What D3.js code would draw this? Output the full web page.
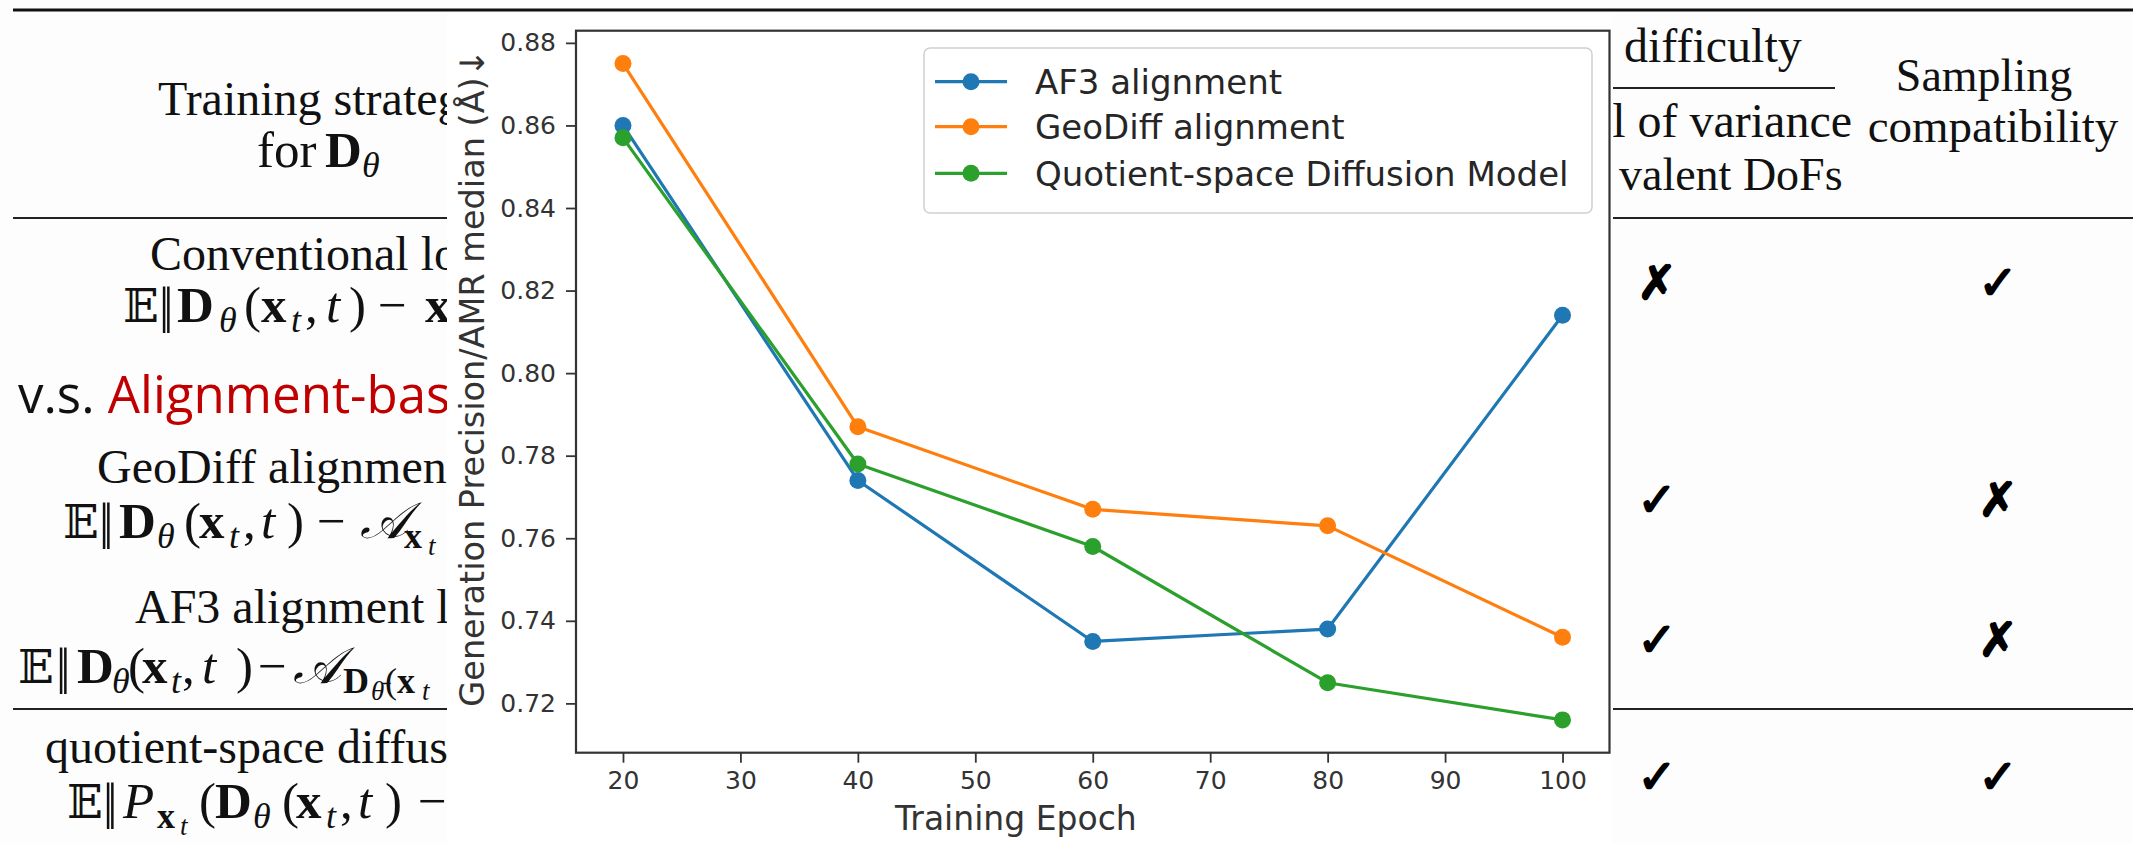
<!DOCTYPE html>
<html><head><meta charset="utf-8">
<script src="https://cdn.jsdelivr.net/npm/d3@7"></script>
<style>body{margin:0;background:#fff;} svg{display:block}</style>
</head><body>
<svg id="c" width="2133" height="844"></svg>
<script>
// ---------- chart data ----------
const epochs = [20, 40, 60, 80, 100];
const af3Values = [0.860, 0.774, 0.735, 0.738, 0.814];
const geoDiffValues = [0.875, 0.787, 0.767, 0.763, 0.736];
const quotientValues = [0.857, 0.778, 0.758, 0.725, 0.716];
const seriesNames = ["AF3 alignment", "GeoDiff alignment", "Quotient-space Diffusion Model"];
const seriesColors = ["#1f77b4", "#ff7f0e", "#2ca02c"];
const xTickValues = [20, 30, 40, 50, 60, 70, 80, 90, 100];
const yTickValues = [0.72, 0.74, 0.76, 0.78, 0.80, 0.82, 0.84, 0.86, 0.88];
const xAxisTitle = "Training Epoch";
const yAxisTitle = "Generation Precision/AMR median (Å)↓";

// ---------- background table data (visible, partly covered texts) ----------
const rowTitles = ["Conventional lo", "GeoDiff alignmen", "AF3 alignment l", "quotient-space diffus"];
const varianceMarks = ["✗", "✓", "✓", "✓"];
const samplingMarks = ["✓", "✗", "✗", "✓"];

const svg = d3.select("#c");
const W = 2133, H = 844;

svg.append("rect").attr("width", W).attr("height", H).attr("fill", "#fdfdfd");

const defs = svg.append("defs");
defs.append("clipPath").attr("id", "clipL").append("rect").attr("x", 0).attr("y", 0).attr("width", 447).attr("height", H);
defs.append("clipPath").attr("id", "clipR").append("rect").attr("x", 1613).attr("y", 0).attr("width", W - 1613).attr("height", H);

const serif = "'Liberation Serif','Times New Roman',serif";
const FS = 48, MFS = 51, SUB = 36, SUBSUB = 27;
const tbl = svg.append("g");

// rules
tbl.append("line").attr("x1", 13).attr("x2", W).attr("y1", 10).attr("y2", 10).attr("stroke", "#111").attr("stroke-width", 2.8);
[[13, 447, 218], [1613, W, 218], [1613, 1835, 88], [13, 447, 709], [1613, W, 709]].forEach(([a, b, y]) => {
  tbl.append("line").attr("x1", a).attr("x2", b).attr("y1", y).attr("y2", y).attr("stroke", "#222").attr("stroke-width", 1.8);
});

// math text helper: segments [text, styleTokens, absoluteX]
function mathText(g, y, segs) {
  const t = g.append("text").attr("y", y).attr("font-family", serif).attr("font-size", MFS).attr("fill", "#111");
  let shift = 0;
  segs.forEach(([s, st, px]) => {
    const tok = (st || "").split(" ");
    const ts = t.append("tspan").attr("x", px).text(s);
    if (tok.includes("b")) ts.attr("font-weight", "bold");
    if (tok.includes("i")) ts.attr("font-style", "italic");
    if (tok.includes("bb")) ts.attr("font-family", "'DejaVu Serif','DejaVu Sans',serif").attr("font-size", 47);
    if (tok.includes("norm")) ts.attr("letter-spacing", -6);
    let target = 0;
    if (tok.includes("sub")) { target = 10; ts.attr("font-size", SUB); }
    if (tok.includes("subsub")) { target = 17; ts.attr("font-size", SUBSUB); }
    ts.attr("dy", target - shift);
    shift = target;
  });
  return t;
}

const L = tbl.append("g").attr("clip-path", "url(#clipL)");
// header
L.append("text").attr("x", 158).attr("y", 115).attr("font-family", serif).attr("font-size", FS).attr("fill", "#111").text("Training strateg");
mathText(L, 167, [["for", "", 257], ["D", "b", 325], ["θ", "sub i", 362]]);

// row titles
const titlePos = [[150, 270], [97, 483], [135, 623], [45, 763]];
titlePos.forEach((p, i) => {
  L.append("text").attr("x", p[0]).attr("y", p[1]).attr("font-family", serif).attr("font-size", FS).attr("fill", "#111").text(rowTitles[i]);
});
// formulas
mathText(L, 322, [["𝔼", "bb", 123], ["||", "norm", 159], ["D", "b", 177], ["θ", "sub i", 219], ["(", "", 244], ["x", "b", 261], ["t", "sub i", 291], [",", "", 305], ["t", "i", 326], [")", "", 349], ["−", "", 378], ["x", "b", 425]]);
mathText(L, 538, [["𝔼", "bb", 63], ["||", "norm", 99], ["D", "b", 119], ["θ", "sub i", 157], ["(", "", 184], ["x", "b", 199], ["t", "sub i", 229], [",", "", 243], ["t", "i", 261], [")", "", 287], ["−", "", 317], ["𝒜", "i", 360], ["x", "sub b", 404], ["t", "subsub i", 428]]);
mathText(L, 683, [["𝔼", "bb", 18], ["||", "norm", 56], ["D", "b", 77], ["θ", "sub i", 112], ["(", "", 128], ["x", "b", 142], ["t", "sub i", 171], [",", "", 182], ["t", "i", 202], [")", "", 236], ["−", "", 258], ["𝒜", "i", 293], ["D", "sub b", 343], ["θ̄", "subsub i", 371], ["(", "sub", 385], ["x", "sub b", 397], ["t", "subsub i", 422]]);
mathText(L, 818, [["𝔼", "bb", 67], ["||", "norm", 103], ["P", "i", 123], ["x", "sub b", 157], ["t", "subsub i", 180], ["(", "", 199], ["D", "b", 215], ["θ", "sub i", 253], ["(", "", 282], ["x", "b", 296], ["t", "sub i", 326], [",", "", 340], ["t", "i", 358], [")", "", 385], ["−", "", 418]]);

// red annotation
const ann = L.append("text").attr("x", 18).attr("y", 413).attr("font-family", "'Open Sans','Noto Sans',sans-serif").attr("font-size", 51);
ann.append("tspan").attr("fill", "#111").text("v.s. ");
ann.append("tspan").attr("fill", "#c00000").text("Alignment-bas");

// right side of table
const R = tbl.append("g").attr("clip-path", "url(#clipR)");
const rt = (x, y, s, anchor, fs) => R.append("text").attr("x", x).attr("y", y).attr("font-family", serif).attr("font-size", fs || FS).attr("fill", "#111").attr("text-anchor", anchor).text(s);
rt(1624, 62, "difficulty", "start");
rt(1852, 137, "al of variance", "end");
rt(1619, 190, "valent DoFs", "start", 46);
rt(1984, 91, "Sampling", "middle", 46);
rt(1993, 142, "compatibility", "middle", 47);

const rowY = [283, 500, 640, 777];
const markAttrs = s => s.attr("text-anchor", "middle").attr("dy", "0.35em").attr("font-family", "'DejaVu Sans',sans-serif")
  .attr("font-size", 47).attr("font-weight", "bold").attr("fill", "#000").attr("stroke", "#000").attr("stroke-width", 1.8);
rowY.forEach((y, i) => {
  markAttrs(R.append("text").attr("x", 1657).attr("y", y).text(varianceMarks[i]));
  markAttrs(R.append("text").attr("x", 1998).attr("y", y).text(samplingMarks[i]));
});

// ---------- chart overlay ----------
svg.append("rect").attr("x", 447).attr("y", 14).attr("width", 1612 - 447).attr("height", H - 14).attr("fill", "#ffffff");

const x = d3.scaleLinear().domain([16, 104]).range([576, 1609.5]);
const y = d3.scaleLinear().domain([0.70805, 0.88295]).range([752.7, 30.7]);
const sans = "'DejaVu Sans',sans-serif";
const chart = svg.append("g");

const series = [af3Values, geoDiffValues, quotientValues];
const line = d3.line().x((d, i) => x(epochs[i])).y(d => y(d));
series.forEach((vals, k) => {
  chart.append("path").datum(vals).attr("d", line).attr("fill", "none").attr("stroke", seriesColors[k]).attr("stroke-width", 3.2).attr("stroke-linejoin", "round");
  chart.selectAll(null).data(vals).enter().append("circle")
    .attr("cx", (d, i) => x(epochs[i])).attr("cy", d => y(d)).attr("r", 8.5).attr("fill", seriesColors[k]);
});

// axes
const xAxis = chart.append("g").attr("transform", "translate(0,752.7)")
  .call(d3.axisBottom(x).tickValues(xTickValues).tickSize(10).tickPadding(9).tickSizeOuter(0));
const yAxis = chart.append("g").attr("transform", "translate(576,0)")
  .call(d3.axisLeft(y).tickValues(yTickValues).tickFormat(d3.format(".2f")).tickSize(10).tickPadding(10).tickSizeOuter(0));
[xAxis, yAxis].forEach(a => {
  a.select(".domain").remove();
  a.selectAll("line").attr("stroke", "#333").attr("stroke-width", 1.8);
  a.selectAll("text").attr("font-family", sans).attr("font-size", 25).attr("fill", "#333");
});
// spines
chart.append("rect").attr("x", 576).attr("y", 30.7).attr("width", 1609.5 - 576).attr("height", 752.7 - 30.7)
  .attr("fill", "none").attr("stroke", "#333").attr("stroke-width", 2.2);

chart.append("text").attr("x", 895).attr("y", 830).attr("font-family", sans).attr("font-size", 33).attr("fill", "#333").text(xAxisTitle);
chart.append("text").attr("transform", "translate(484,378) rotate(-90)").attr("text-anchor", "middle")
  .attr("font-family", sans).attr("font-size", 33.5).attr("fill", "#333").text(yAxisTitle);

// legend
const lg = chart.append("g");
lg.append("rect").attr("x", 924).attr("y", 48).attr("width", 1592 - 924).attr("height", 213 - 48).attr("rx", 6)
  .attr("fill", "#fff").attr("fill-opacity", 0.8).attr("stroke", "#d0d0d0").attr("stroke-width", 1.5);
const legY = [81.7, 126.7, 173.3];
seriesNames.forEach((n, k) => {
  lg.append("line").attr("x1", 935).attr("x2", 1007).attr("y1", legY[k]).attr("y2", legY[k]).attr("stroke", seriesColors[k]).attr("stroke-width", 3.2);
  lg.append("circle").attr("cx", 971).attr("cy", legY[k]).attr("r", 8.5).attr("fill", seriesColors[k]);
  lg.append("text").attr("x", 1035).attr("y", legY[k]).attr("dy", "0.36em").attr("font-family", sans).attr("font-size", 34).attr("fill", "#262626").text(n);
});
</script>
</body></html>
